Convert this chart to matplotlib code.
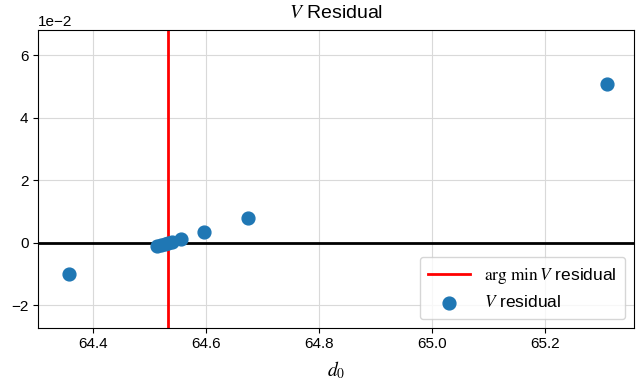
import numpy as np
import matplotlib
matplotlib.use("Agg")
import matplotlib.pyplot as plt

plt.rcParams['font.family'] = ['Liberation Sans', 'DejaVu Sans']
plt.rcParams['mathtext.fontset'] = 'stix'

# residual data
d0 = [64.357, 64.513, 64.520, 64.527, 64.533, 64.540, 64.555, 64.596, 64.675, 65.311]
resid = [-1.0e-2, -0.12e-2, -0.08e-2, -0.04e-2, 0.0, 0.03e-2, 0.11e-2, 0.35e-2, 0.80e-2, 5.07e-2]
d0_best = 64.533

fig = plt.figure(figsize=(6.36, 3.89), dpi=100)
ax = fig.add_axes([38.3/636, 61.3/389, (634-38.3)/636, (327.7-30)/389])

ax.grid(True, color='#d9d9d9', lw=0.8)
ax.set_axisbelow(True)
ax.axhline(0, color='black', lw=2)
ax.axvline(d0_best, color='red', lw=2, label=r'$\arg\,\min\, V$ residual')
ax.scatter(d0, resid, s=85, color='#1f77b4', label=r'$V$ residual', zorder=3)

ax.set_xlim(64.303, 65.358)
ax.set_ylim(-2.72e-2, 6.80e-2)
ax.set_xticks([64.4, 64.6, 64.8, 65.0, 65.2])
ax.set_yticks([-2e-2, 0, 2e-2, 4e-2, 6e-2])
ax.ticklabel_format(style='sci', axis='y', scilimits=(0, 0))
ax.tick_params(labelsize=11)
ax.yaxis.get_offset_text().set_fontsize(11)

ax.set_title(r'$V$ Residual', fontsize=14, pad=9)
ax.set_xlabel(r'$d_0$', fontsize=14, labelpad=6)
ax.legend(loc='lower right', fontsize=12.5, handlelength=2.4, borderpad=0.5)

fig.savefig('out.png', dpi=100)
